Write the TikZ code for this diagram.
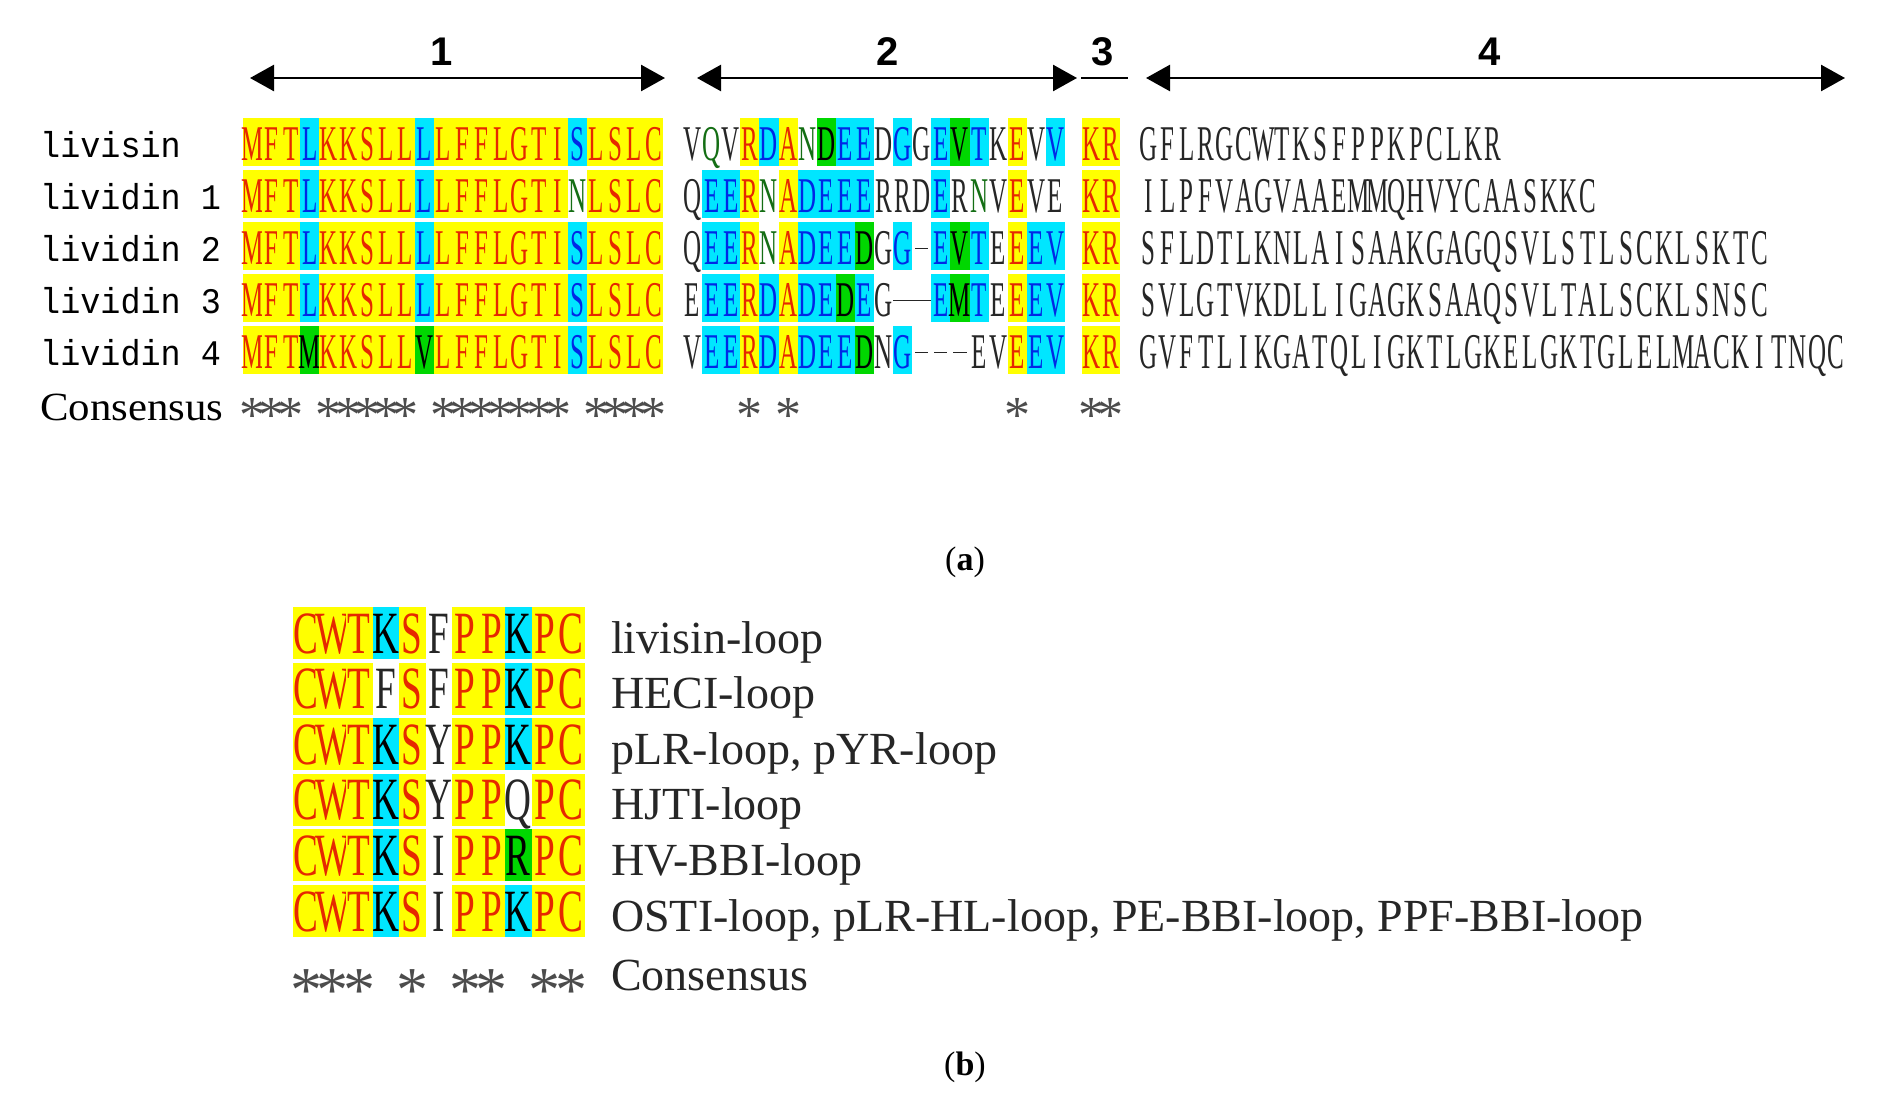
\documentclass[tikz,border=0pt]{standalone}
\usepackage{fontspec}
\setmainfont{Liberation Serif}
\newfontfamily\labfont{Liberation Mono}
\newfontfamily\numfont{Liberation Sans}
\usetikzlibrary{arrows.meta}
\definecolor{cY}{RGB}{255,255,0}
\definecolor{cC}{RGB}{0,230,255}
\definecolor{cG}{RGB}{0,215,0}
\definecolor{tR}{RGB}{230,40,0}
\definecolor{tB}{RGB}{0,40,230}
\definecolor{tG}{RGB}{20,110,20}
\tikzset{
 bgy/.style={fill=cY}, bgc/.style={fill=cC}, bgg/.style={fill=cG}, bgk/.style={fill=cC},
 bgn/.style={fill=none}, bgt/.style={fill=none},
 txty/.style={text=tR}, txtc/.style={text=tB}, txtg/.style={text=black}, txtk/.style={text=black},
 txtn/.style={text=black!85}, txtt/.style={text=tG},
 pstyle/.style={inner sep=0,anchor=base,text=black!85},
 arr/.style={line width=2.6pt,{Triangle[length=24pt,width=26pt]}-{Triangle[length=24pt,width=26pt]}},
 num/.style={font=\numfont\bfseries\fontsize{40}{40}\selectfont,inner sep=0},
 seqlab/.style={inner sep=0,anchor=base west},
 looplab/.style={inner sep=0,anchor=base west,font=\fontsize{46}{46}\selectfont,text=black!85},
 captxt/.style={inner sep=0,font=\fontsize{34}{34}\selectfont}
}
\newcount\seqi
\def\sx{0}\def\sy{0}\def\sw{19.1}\def\sh{48}\def\sbase{42}
\def\sfont#1{\scalebox{0.5}[1]{\fontsize{50}{50}\selectfont #1}}
\def\seqrow#1#2{\seqi=0 \seqloop#1\relax#2\relax}
\def\seqloop#1#2\relax#3#4\relax{\seqcell{#1}{#3}\advance\seqi by 1 \ifx\relax#2\relax\else\seqloop#2\relax#4\relax\fi}
\def\seqcell#1#2{\pgfmathsetmacro\cx{\sx+\seqi*\sw}%
 \if#2d\draw[line width=1.6pt,black!85] (\cx+3,\sy+\sh*0.55) -- (\cx+\sw-3,\sy+\sh*0.55);%
 \else\if#2D\draw[line width=1.6pt,black!85] (\cx,\sy+\sh*0.55) -- (\cx+\sw,\sy+\sh*0.55);%
 \else\fill[bg#2] (\cx,\sy) rectangle ++(\sw,\sh);%
 \node[txt#2,inner sep=0,anchor=base] at (\cx+\sw/2,\sy+\sbase) {\sfont{#1}};\fi\fi}
\def\plainrow#1{\seqi=0 \plainloop#1\relax}
\def\plainloop#1#2\relax{\if#1.\else\pgfmathsetmacro\cx{\sx+\seqi*\sw}\node[pstyle] at (\cx+\sw/2,\sy) {\sfont{#1}};\fi\advance\seqi by 1 \ifx\relax#2\relax\else\plainloop#2\relax\fi}
\def\lab#1{\scalebox{0.93}[1]{\labfont\fontsize{36}{36}\selectfont #1}}
\begin{document}
\begin{tikzpicture}[x=1pt,y=-1pt]
\useasboundingbox (0,0) rectangle (1894,1098);
% ---------- panel (a): arrows ----------
\coordinate (a1l) at (250,78); \coordinate (a1r) at (665,78);
\coordinate (a2l) at (697,78); \coordinate (a2r) at (1077,78);
\coordinate (a3l) at (1081,78); \coordinate (a3r) at (1128,78);
\coordinate (a4l) at (1146,78); \coordinate (a4r) at (1845,78);
\draw[arr] (a1l) -- (a1r);
\draw[arr] (a2l) -- (a2r);
\draw[line width=2.6pt] (a3l) -- (a3r);
\draw[arr] (a4l) -- (a4r);
\node[num] (n1) at (442,52) {1};
\node[num] (n2) at (888,52) {2};
\node[num] (n3) at (1103,52) {3};
\node[num] (n4) at (1490,52) {4};
% ---------- panel (a): labels ----------
\node[seqlab] (l1) at (40,157) {\lab{livisin}};
\node[seqlab] (l2) at (40,209) {\lab{lividin 1}};
\node[seqlab] (l3) at (40,261) {\lab{lividin 2}};
\node[seqlab] (l4) at (40,313) {\lab{lividin 3}};
\node[seqlab] (l5) at (40,365) {\lab{lividin 4}};
\node[seqlab] (l6) at (40,420) {\scalebox{1.07}[1]{\fontsize{40}{40}\selectfont Consensus}};
% ---------- block 1 ----------
\def\sw{19.1}\def\sh{48}\def\sbase{42}
\def\sx{243}
\def\sy{118}\seqrow{MFTLKKSLLLLFFLGTISLSLC}{yyycyyyyycyyyyyyycyyyy}
\def\sy{170}\seqrow{MFTLKKSLLLLFFLGTINLSLC}{yyycyyyyycyyyyyyytyyyy}
\def\sy{222}\seqrow{MFTLKKSLLLLFFLGTISLSLC}{yyycyyyyycyyyyyyycyyyy}
\def\sy{274}\seqrow{MFTLKKSLLLLFFLGTISLSLC}{yyycyyyyycyyyyyyycyyyy}
\def\sy{326}\seqrow{MFTMKKSLLVLFFLGTISLSLC}{yyygyyyyygyyyyyyycyyyy}
% ---------- block 2 ----------
\def\sx{683}
\def\sy{118}\seqrow{VQVRDANDEEDGGEVTKEVV}{ntnycytgccncncgcnync}
\def\sy{170}\seqrow{QEERNADEEERRDERNVEVE}{nccytyccccnnncntnynn}
\def\sy{222}\seqrow{QEERNADEEDGG-EVTEEEV}{nccytycccgncdcgcnycc}
\def\sy{274}\seqrow{EEERDADEDEG--EMTEEEV}{nccycyccgcnDDcgcnycc}
\def\sy{326}\seqrow{VEERDADEEDNG---EVEEV}{nccycycccgncdddnnycc}
% ---------- block 3 ----------
\def\sx{1082}
\def\sy{118}\seqrow{KR}{yy}
\def\sy{170}\seqrow{KR}{yy}
\def\sy{222}\seqrow{KR}{yy}
\def\sy{274}\seqrow{KR}{yy}
\def\sy{326}\seqrow{KR}{yy}
% ---------- block 4 ----------
\def\sx{1139}
\def\sy{160}\plainrow{GFLRGCWTKSFPPKPCLKR}
\def\sy{212}\plainrow{ILPFVAGVAAEMMQHVYCAASKKC}
\def\sy{264}\plainrow{SFLDTLKNLAISAAKGAGQSVLSTLSCKLSKTC}
\def\sy{316}\plainrow{SVLGTVKDLLIGAGKSAAQSVLTALSCKLSNSC}
\def\sy{368}\plainrow{GVFTLIKGATQLIGKTLGKELGKTGLELMACKITNQC}
% ---------- consensus (a) ----------
\tikzset{pstyle/.style={inner sep=0,anchor=base,text=black!70}}
\def\sfont#1{\fontsize{52}{52}\selectfont #1}
\def\sy{432}
\def\sx{243}\plainrow{***.*****.*******.****}
\def\sx{683}\plainrow{...*.*...........*..}
\def\sx{1082}\plainrow{**}
\node[captxt] (capa) at (965,562) {(\textbf{a})};
% ---------- panel (b) ----------
\tikzset{pstyle/.style={inner sep=0,anchor=base,text=black!70}}
\def\sfont#1{\scalebox{0.62}[1]{\fontsize{60}{60}\selectfont #1}}
\def\sw{26.5}\def\sh{52}\def\sbase{46}\def\sx{293}
\def\sy{607}\seqrow{CWTKSFPPKPC}{yyykynyykyy}
\def\sy{662.6}\seqrow{CWTFSFPPKPC}{yyynynyykyy}
\def\sy{718.2}\seqrow{CWTKSYPPKPC}{yyykynyykyy}
\def\sy{773.8}\seqrow{CWTKSYPPQPC}{yyykynyynyy}
\def\sy{829.4}\seqrow{CWTKSIPPRPC}{yyykynyygyy}
\def\sy{885}\seqrow{CWTKSIPPKPC}{yyykynyykyy}
\def\sfont#1{\fontsize{64}{64}\selectfont #1}
\def\sy{1011}\plainrow{***.*.**.**}
\node[looplab] (b1) at (611,653) {livisin-loop};
\node[looplab] (b2) at (611,708.6) {HECI-loop};
\node[looplab] (b3) at (611,764.2) {pLR-loop, pYR-loop};
\node[looplab] (b4) at (611,819.8) {HJTI-loop};
\node[looplab] (b5) at (611,875.4) {HV-BBI-loop};
\node[looplab] (b6) at (611,931) {OSTI-loop, pLR-HL-loop, PE-BBI-loop, PPF-BBI-loop};
\node[looplab] (b7) at (611,990) {Consensus};
\node[captxt] (capb) at (965,1067) {(\textbf{b})};
\end{tikzpicture}
\end{document}
